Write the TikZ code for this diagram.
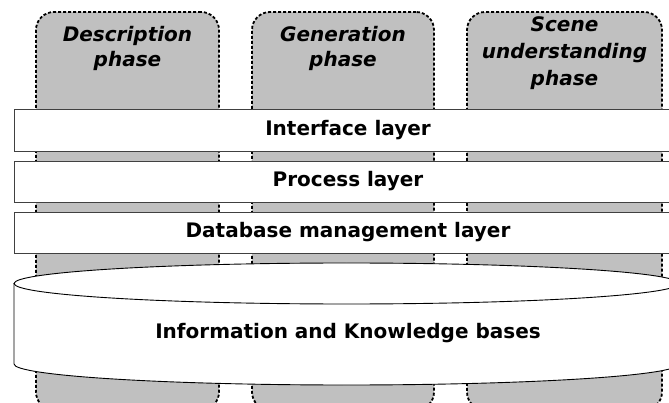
\documentclass[tikz,border=0pt]{standalone}
\usepackage{fontspec}
\setmainfont{DejaVu Sans}
\begin{document}
\begin{tikzpicture}[x=1pt,y=-1pt,
  col/.style={draw=black, fill=colgray, line width=1.8pt, dash pattern=on 3pt off 2pt, rounded corners=18pt, inner sep=0pt},
  layer/.style={draw=black!75, fill=white, line width=0.8pt, minimum width=668pt, inner sep=0pt, font=\fontsize{20}{24}\selectfont\bfseries},
  phase/.style={font=\fontsize{20}{24}\selectfont\bfseries\itshape, anchor=base, inner sep=0pt}]
\definecolor{colgray}{RGB}{192,192,192}
\useasboundingbox (0,0) rectangle (669,403);
\clip (0,0) rectangle (669,403);
\node[col, minimum width=183pt, minimum height=398pt] (c1) at (127.5,211) {};
\node[col, minimum width=182pt, minimum height=398pt] (c2) at (343,211) {};
\node[col, minimum width=195pt, minimum height=398pt] (c3) at (564.5,211) {};
\node[phase] (t1a) at (127.5,42) {Description};
\node[phase] (t1b) at (127.5,67) {phase};
\node[phase] (t2a) at (343,42) {Generation};
\node[phase] (t2b) at (343,67) {phase};
\node[phase] (t3a) at (564.5,32) {Scene};
\node[phase] (t3b) at (564.5,59) {understanding};
\node[phase] (t3c) at (564.5,86) {phase};
\node[layer, minimum height=42pt] (l1) at (348,130) {Interface layer};
\node[layer, minimum height=41pt] (l2) at (348,181.5) {Process layer};
\node[layer, minimum height=41pt] (l3) at (348,232.5) {Database management layer};
\fill[white] (14,283.5) -- (14,364) arc[start angle=180,end angle=0,x radius=332.5,y radius=21] -- (679,283.5) arc[start angle=0,end angle=-180,x radius=332.5,y radius=20.5] -- cycle;
\draw[line width=0.9pt] (14,283.5) -- (14,364) arc[start angle=180,end angle=0,x radius=332.5,y radius=21] -- (679,283.5);
\draw[line width=0.9pt] (346.5,283.5) ellipse[x radius=332.5,y radius=20.5];
\node[font=\fontsize{20}{24}\selectfont\bfseries] (kb) at (348,333) {Information and Knowledge bases};
\end{tikzpicture}
\end{document}
